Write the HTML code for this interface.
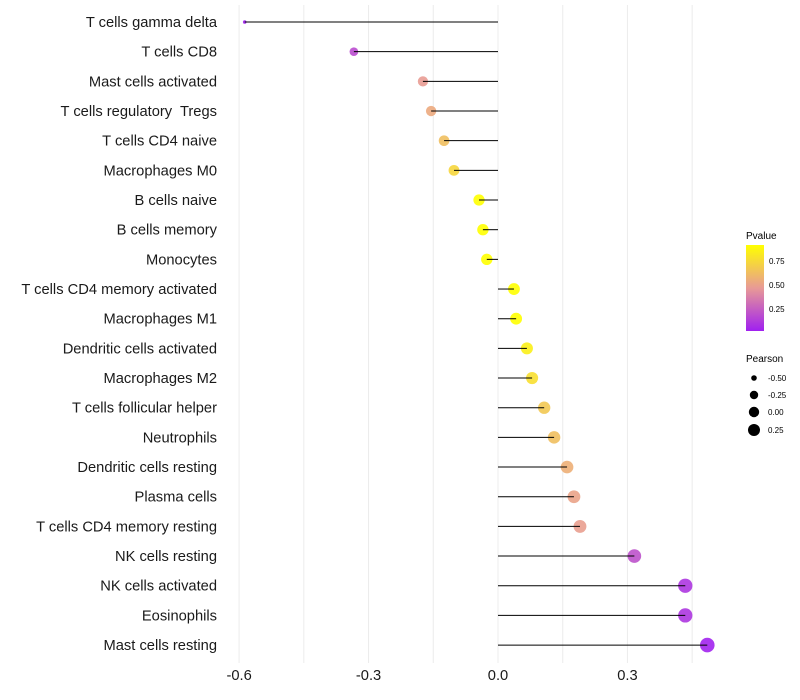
<!DOCTYPE html>
<html><head><meta charset="utf-8"><style>
body{margin:0;background:#fff;font-family:"Liberation Sans",sans-serif}
svg{display:block}
text{white-space:pre}
</style></head><body>
<svg id="chart" width="800" height="700">
<defs><linearGradient id="pg" x1="0" y1="1" x2="0" y2="0">
<stop offset="0" stop-color="#A020F0"/><stop offset="0.5" stop-color="#E89A96"/><stop offset="1" stop-color="#FFFF00"/></linearGradient></defs>
<g id="grid"></g>
<g id="marks"></g>
<g id="yaxis"></g>
<g id="xaxis"></g>
<g>
<text x="746" y="239" font-size="10">Pvalue</text>
<rect x="746" y="245" width="18" height="86" fill="url(#pg)"/>
<text x="769" y="264" font-size="8">0.75</text>
<text x="769" y="288" font-size="8">0.50</text>
<text x="769" y="312" font-size="8">0.25</text>
</g>
<g>
<text x="746" y="362" font-size="10">Pearson</text>
<circle cx="754" cy="378" r="2.8"/>
<circle cx="754" cy="395" r="4.2"/>
<circle cx="754" cy="412" r="5.2"/>
<circle cx="754" cy="430" r="6"/>
<text x="768" y="381" font-size="8">-0.50</text>
<text x="768" y="398" font-size="8">-0.25</text>
<text x="768" y="415" font-size="8">0.00</text>
<text x="768" y="433" font-size="8">0.25</text>
</g>
</svg>
<script>
const categories=["T cells gamma delta","T cells CD8","Mast cells activated","T cells regulatory  Tregs","T cells CD4 naive","Macrophages M0","B cells naive","B cells memory","Monocytes","T cells CD4 memory activated","Macrophages M1","Dendritic cells activated","Macrophages M2","T cells follicular helper","Neutrophils","Dendritic cells resting","Plasma cells","T cells CD4 memory resting","NK cells resting","NK cells activated","Eosinophils","Mast cells resting"];
const pearson=[-0.587,-0.334,-0.174,-0.155,-0.125,-0.102,-0.044,-0.035,-0.026,0.037,0.042,0.067,0.079,0.107,0.130,0.160,0.176,0.190,0.316,0.434,0.434,0.485];
const pvalue=[0.02,0.2,0.49,0.55,0.64,0.74,0.92,0.93,0.94,0.93,0.92,0.85,0.78,0.68,0.64,0.57,0.52,0.5,0.22,0.12,0.12,0.05];
const xTicks=[-0.6,-0.3,0.0,0.3];
const xTickLabels=["-0.6","-0.3","0.0","0.3"];
const xMinor=[-0.45,-0.15,0.15,0.45];
const NS="http://www.w3.org/2000/svg";
const x=v=>498+v*431.5;
const y=i=>22+i*29.67;
function mk(tag,attrs,parent){const e=document.createElementNS(NS,tag);for(const k in attrs)e.setAttribute(k,attrs[k]);parent.appendChild(e);return e;}
function lerp(a,b,t){return a.map((v,i)=>Math.round(v+(b[i]-v)*t));}
function col(p){const lo=[160,32,240],mid=[232,154,150],hi=[255,255,0];let t=(p-0.04)/0.88;t=Math.max(0,Math.min(1,t));const c=t<0.5?lerp(lo,mid,t*2):lerp(mid,hi,(t-0.5)*2);return `rgb(${c})`;}
function rad(p){return 1.5+5.8*Math.sqrt(Math.max(0,(p+0.59)/1.075));}
const grid=document.getElementById('grid'),marks=document.getElementById('marks'),ya=document.getElementById('yaxis'),xa=document.getElementById('xaxis');
xTicks.concat(xMinor).forEach(v=>{const l=mk('line',{x1:x(v),x2:x(v),y1:5,y2:663,stroke:'#ececec','stroke-width':1},grid);

});
categories.forEach((c,i)=>{
const p=pearson[i];
const ci=mk('circle',{cx:x(p),cy:y(i),r:rad(p),fill:col(pvalue[i]),'fill-opacity':0.9},marks);


const ln=mk('line',{x1:x(0),x2:x(p),y1:y(i),y2:y(i),stroke:'#000','stroke-width':1},marks);


const t=mk('text',{x:217,y:y(i)+5,'text-anchor':'end','font-size':14.7,fill:'#1a1a1a'},ya);
t.textContent=c;


});
xTicks.forEach((v,i)=>{const t=mk('text',{x:x(v),y:680,'text-anchor':'middle','font-size':14.7,fill:'#1a1a1a'},xa);
t.textContent=xTickLabels[i];

});
</script>
</body></html>
